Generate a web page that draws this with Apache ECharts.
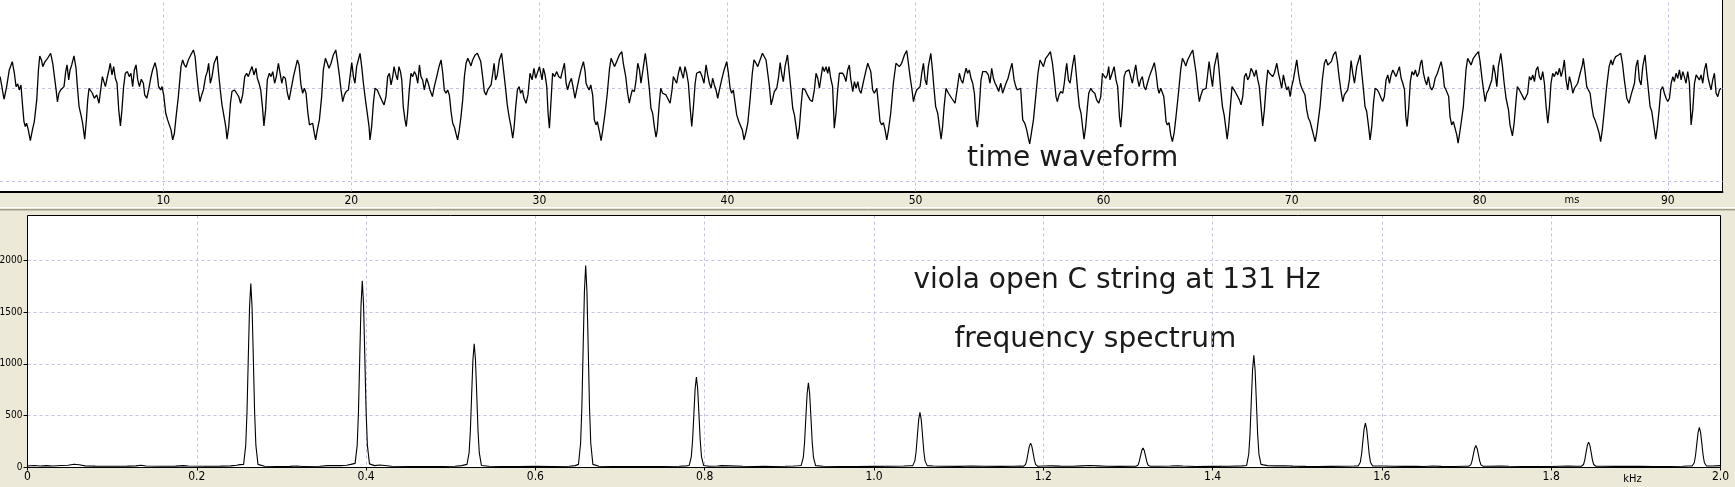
<!DOCTYPE html>
<html><head><meta charset="utf-8">
<script src="https://cdn.jsdelivr.net/npm/echarts@6/dist/echarts.min.js"></script>
<style>html,body{margin:0;padding:0;background:#ECE9D8;overflow:hidden}#c{width:1735px;height:487px}</style>
</head><body><div id="c"></div>
<script>
// time waveform: [time in ms, amplitude in arbitrary units]
const waveform = [
[1.32,35],[1.40,10],[1.53,-33],[1.67,5],[1.81,55],[1.97,80],[2.08,45],[2.17,5],[2.26,13],[2.34,-5],[2.43,10],[2.52,-55],[2.59,-100],[2.66,-115],[2.73,-105],[2.82,-125],[2.93,-157],[3.04,-125],[3.14,-100],[3.27,-35],[3.36,55],[3.43,97],[3.52,85],[3.59,65],[3.71,80],[3.85,90],[4.01,105],[4.12,75],[4.21,35],[4.30,-5],[4.37,-41],[4.45,-15],[4.54,-5],[4.63,-10],[4.72,5],[4.81,50],[4.88,70],[4.97,25],[5.04,55],[5.13,70],[5.25,97],[5.36,60],[5.43,5],[5.52,-55],[5.62,-80],[5.71,-105],[5.82,-153],[5.91,-95],[5.98,-35],[6.05,0],[6.14,-5],[6.23,-15],[6.33,-30],[6.46,-20],[6.58,-45],[6.67,-5],[6.76,35],[6.85,40],[6.92,5],[7.01,30],[7.11,55],[7.18,75],[7.27,40],[7.36,65],[7.45,30],[7.54,15],[7.63,-65],[7.72,-113],[7.80,-65],[7.89,5],[7.98,45],[8.09,50],[8.19,35],[8.28,45],[8.37,5],[8.46,55],[8.55,70],[8.64,25],[8.73,5],[8.83,27],[8.94,15],[9.01,-20],[9.12,-30],[9.22,-5],[9.33,30],[9.43,55],[9.56,77],[9.65,55],[9.75,5],[9.86,-5],[9.93,5],[10.02,-20],[10.13,-75],[10.23,-95],[10.32,-110],[10.41,-125],[10.50,-155],[10.59,-135],[10.68,-85],[10.80,-25],[10.94,65],[11.03,85],[11.12,70],[11.21,63],[11.33,85],[11.46,100],[11.60,115],[11.69,95],[11.77,45],[11.86,-5],[11.95,-40],[12.04,-20],[12.13,-5],[12.25,35],[12.34,50],[12.41,75],[12.50,15],[12.59,35],[12.70,75],[12.86,97],[12.94,45],[13.03,-5],[13.12,-50],[13.23,-85],[13.32,-115],[13.39,-153],[13.48,-115],[13.57,-45],[13.65,-10],[13.78,-5],[13.90,-15],[14.01,-25],[14.11,-45],[14.22,-20],[14.33,35],[14.43,45],[14.52,35],[14.61,50],[14.72,65],[14.82,40],[14.93,60],[15.00,30],[15.09,15],[15.18,-5],[15.27,-55],[15.35,-113],[15.44,-65],[15.53,25],[15.64,45],[15.73,35],[15.82,50],[15.92,15],[16.01,35],[16.12,75],[16.21,45],[16.30,15],[16.38,35],[16.49,30],[16.60,-15],[16.69,-35],[16.79,-5],[16.92,35],[17.00,40],
[17.13,85],[17.22,70],[17.32,10],[17.41,-15],[17.50,0],[17.59,-15],[17.68,-70],[17.77,-110],[17.85,-113],[17.94,-105],[18.03,-135],[18.10,-155],[18.19,-125],[18.30,-95],[18.42,-25],[18.51,55],[18.62,90],[18.72,75],[18.81,60],[18.92,75],[19.04,100],[19.17,115],[19.25,85],[19.36,40],[19.45,-5],[19.54,-40],[19.63,-20],[19.72,-10],[19.84,-5],[19.93,35],[20.02,77],[20.11,35],[20.19,15],[20.28,65],[20.46,105],[20.55,65],[20.64,15],[20.76,-40],[20.87,-85],[20.94,-115],[20.99,-155],[21.08,-115],[21.17,-45],[21.26,0],[21.38,-5],[21.49,-20],[21.61,-35],[21.74,-50],[21.84,-25],[21.93,35],[22.02,45],[22.11,10],[22.20,35],[22.27,65],[22.37,40],[22.45,25],[22.53,65],[22.61,50],[22.68,25],[22.76,-55],[22.85,-95],[22.92,-115],[22.99,-75],[23.08,-5],[23.17,45],[23.26,35],[23.35,50],[23.44,40],[23.53,15],[23.62,70],[23.70,35],[23.79,25],[23.88,-5],[24.00,30],[24.09,15],[24.18,-5],[24.31,-25],[24.41,5],[24.54,35],[24.66,65],[24.77,85],[24.86,45],[24.94,-5],[25.03,-15],[25.12,-5],[25.21,-20],[25.30,-70],[25.39,-105],[25.48,-117],[25.56,-135],[25.65,-155],[25.74,-125],[25.83,-85],[25.92,-35],[26.01,35],[26.10,75],[26.19,90],[26.27,80],[26.36,67],[26.45,85],[26.58,100],[26.70,105],[26.79,107],[26.88,80],[26.98,35],[27.07,-10],[27.16,-20],[27.25,-5],[27.34,-5],[27.43,10],[27.52,45],[27.59,75],[27.67,25],[27.76,40],[27.87,85],[27.99,105],[28.08,60],[28.19,5],[28.29,-50],[28.40,-90],[28.49,-115],[28.58,-150],[28.65,-120],[28.74,-55],[28.83,-5],[28.92,5],[29.00,-15],[29.09,-5],[29.18,-30],[29.29,-45],[29.39,-20],[29.50,45],[29.61,25],[29.71,60],[29.80,30],[29.89,35],[30.00,65],[30.07,65],[30.14,25],[30.21,60],[30.30,40],[30.39,5],[30.46,-75],[30.53,-120],[30.60,-55],[30.70,45],[30.81,35],[30.92,50],[31.02,35],[31.13,30],[31.24,55],[31.33,75],[31.42,15],[31.50,-5],[31.59,15],[31.70,30],[31.80,0],[31.89,-30],[31.98,-5],[32.09,25],[32.21,55],[32.34,80],[32.43,50],
[32.48,15],[32.55,5],[32.64,-5],[32.73,10],[32.83,-20],[32.92,-95],[33.01,-110],[33.08,-100],[33.19,-130],[33.28,-157],[33.37,-125],[33.49,-75],[33.61,-15],[33.72,55],[33.81,90],[33.90,85],[33.99,65],[34.11,80],[34.25,100],[34.38,110],[34.46,75],[34.59,35],[34.69,-15],[34.78,-45],[34.85,-25],[34.94,-5],[35.05,-10],[35.14,25],[35.23,75],[35.32,55],[35.40,15],[35.53,65],[35.63,105],[35.74,55],[35.85,-5],[35.93,-60],[36.02,-75],[36.11,-115],[36.20,-147],[36.27,-125],[36.36,-55],[36.45,0],[36.55,-15],[36.64,-10],[36.73,-20],[36.82,-15],[36.95,-45],[37.05,-5],[37.12,35],[37.21,40],[37.30,15],[37.39,45],[37.48,65],[37.57,45],[37.65,30],[37.74,65],[37.83,45],[37.92,15],[38.01,-55],[38.10,-115],[38.19,-55],[38.28,15],[38.36,45],[38.45,40],[38.54,50],[38.65,35],[38.75,15],[38.86,70],[38.95,40],[39.04,15],[39.13,0],[39.21,30],[39.30,10],[39.39,-5],[39.48,-30],[39.57,-5],[39.69,25],[39.82,55],[39.96,80],[40.05,45],[40.14,0],[40.22,-15],[40.31,-5],[40.40,-10],[40.49,-80],[40.60,-100],[40.70,-95],[40.79,-125],[40.88,-155],[40.99,-130],[41.08,-105],[41.20,-35],[41.32,45],[41.41,85],[41.52,75],[41.61,65],[41.73,85],[41.86,105],[41.96,110],[42.05,85],[42.14,45],[42.23,5],[42.32,-50],[42.41,-30],[42.49,-10],[42.62,0],[42.72,35],[42.80,77],[42.88,45],[42.97,20],[43.06,65],[43.19,100],[43.27,55],[43.36,5],[43.47,-60],[43.56,-80],[43.65,-115],[43.73,-153],[43.82,-120],[43.91,-55],[44.00,0],[44.13,-5],[44.25,-20],[44.39,-35],[44.51,-40],[44.62,-5],[44.71,45],[44.80,30],[44.89,0],[44.98,35],[45.06,65],[45.15,50],[45.24,65],[45.33,45],[45.40,65],[45.49,30],[45.59,5],[45.68,-120],[45.77,-75],[45.86,-5],[45.95,45],[46.04,40],[46.13,45],[46.22,35],[46.30,20],[46.39,55],[46.48,70],[46.55,30],[46.66,-10],[46.75,20],[46.84,0],[46.93,20],[47.01,-5],[47.10,-15],[47.23,20],[47.35,50],[47.46,75],[47.53,80],[47.62,50],[47.72,-5],[47.81,-15],
[47.94,0],[48.02,-45],[48.11,-100],[48.20,-110],[48.29,-103],[48.38,-125],[48.47,-155],[48.56,-125],[48.68,-75],[48.82,15],[48.96,75],[49.03,80],[49.14,65],[49.26,75],[49.41,100],[49.53,113],[49.62,75],[49.71,35],[49.80,0],[49.89,-40],[49.97,-20],[50.06,-5],[50.15,-5],[50.24,5],[50.33,45],[50.42,75],[50.51,25],[50.59,10],[50.68,65],[50.81,105],[50.90,55],[50.98,0],[51.07,-55],[51.18,-75],[51.27,-115],[51.36,-153],[51.44,-115],[51.52,-55],[51.62,0],[51.75,-15],[51.83,-20],[51.92,-30],[52.01,-25],[52.10,-45],[52.22,0],[52.33,45],[52.42,25],[52.51,15],[52.60,40],[52.69,60],[52.77,45],[52.86,55],[52.95,30],[53.04,15],[53.13,-15],[53.22,-95],[53.29,-117],[53.38,-65],[53.48,25],[53.57,50],[53.66,45],[53.75,50],[53.87,40],[53.96,15],[54.05,60],[54.14,30],[54.23,15],[54.32,5],[54.42,-10],[54.53,15],[54.63,-15],[54.72,-20],[54.81,15],[54.92,30],[55.03,55],[55.13,75],[55.24,25],[55.33,5],[55.41,-5],[55.50,-10],[55.59,0],[55.70,-95],[55.81,-105],[55.91,-125],[56.00,-150],[56.07,-167],[56.16,-135],[56.27,-95],[56.39,-25],[56.51,45],[56.62,85],[56.71,75],[56.80,65],[56.92,90],[57.06,100],[57.17,110],[57.28,75],[57.38,25],[57.47,-25],[57.54,-40],[57.63,-20],[57.72,-10],[57.83,-15],[57.91,15],[57.99,55],[58.04,75],[58.13,25],[58.22,15],[58.34,65],[58.45,100],[58.54,45],[58.62,-5],[58.71,-55],[58.80,-75],[58.89,-120],[58.96,-153],[59.05,-115],[59.14,-55],[59.21,-15],[59.32,0],[59.42,-10],[59.53,-15],[59.63,-35],[59.74,-45],[59.85,-25],[59.94,45],[60.02,50],[60.11,30],[60.20,40],[60.27,65],[60.34,25],[60.45,45],[60.56,65],[60.66,25],[60.75,5],[60.84,-85],[60.91,-117],[61.00,-55],[61.09,35],[61.18,50],[61.26,45],[61.35,55],[61.44,35],[61.53,15],[61.62,45],[61.71,70],[61.80,30],[61.89,5],[61.97,25],[62.06,35],[62.15,5],[62.24,-5],[62.33,15],[62.43,35],[62.56,55],[62.70,77],[62.79,45],[62.88,0],[62.95,-15],[63.04,0],[63.13,5],[63.20,-25],[63.27,-65],
[63.32,-100],[63.39,-110],[63.48,-103],[63.57,-140],[63.66,-160],[63.75,-135],[63.85,-85],[63.98,-15],[64.10,55],[64.19,90],[64.28,80],[64.37,67],[64.47,85],[64.60,100],[64.74,115],[64.83,80],[64.92,45],[65.01,-5],[65.09,-40],[65.18,-20],[65.27,-5],[65.36,-3],[65.45,0],[65.52,35],[65.61,80],[65.70,40],[65.79,5],[65.89,65],[66.05,107],[66.14,55],[66.23,-5],[66.32,-55],[66.41,-80],[66.49,-115],[66.57,-153],[66.65,-115],[66.74,-55],[66.83,5],[66.94,-5],[67.04,-15],[67.13,-20],[67.22,-35],[67.31,-50],[67.40,-25],[67.49,35],[67.58,45],[67.66,25],[67.75,35],[67.84,60],[67.93,50],[68.02,35],[68.11,55],[68.20,25],[68.28,5],[68.37,-55],[68.46,-113],[68.55,-65],[68.64,5],[68.73,55],[68.82,45],[68.91,50],[68.99,35],[69.08,45],[69.21,75],[69.30,45],[69.38,25],[69.47,0],[69.56,40],[69.65,15],[69.74,-5],[69.83,5],[69.92,-25],[70.00,5],[70.09,25],[70.18,55],[70.27,85],[70.36,45],[70.45,15],[70.54,0],[70.62,-5],[70.71,-20],[70.80,-65],[70.89,-90],[70.98,-100],[71.07,-120],[71.16,-140],[71.25,-160],[71.33,-135],[71.42,-95],[71.51,-55],[71.63,25],[71.74,75],[71.83,87],[71.92,70],[72.01,65],[72.11,80],[72.22,100],[72.34,110],[72.43,80],[72.52,35],[72.63,-10],[72.72,-40],[72.80,-20],[72.89,-15],[72.98,-5],[73.07,25],[73.16,83],[73.25,45],[73.34,15],[73.46,65],[73.64,100],[73.73,45],[73.82,-5],[73.90,-55],[73.99,-70],[74.08,-110],[74.17,-155],[74.26,-115],[74.35,-45],[74.44,0],[74.56,-5],[74.65,-15],[74.76,-30],[74.84,-40],[74.93,-25],[75.02,25],[75.11,40],[75.20,15],[75.29,40],[75.38,55],[75.46,60],[75.55,35],[75.64,50],[75.73,65],[75.82,30],[75.91,15],[76.00,-5],[76.07,-85],[76.14,-115],[76.23,-55],[76.31,20],[76.40,50],[76.49,40],[76.58,55],[76.67,35],[76.76,45],[76.85,75],[76.92,85],[77.01,45],[77.09,25],[77.18,10],[77.27,35],[77.36,5],[77.45,-5],[77.54,5],[77.63,30],[77.75,45],[77.86,65],[77.95,80],[78.03,55],[78.12,5],[78.21,-5],[78.28,0],[78.35,-25],[78.42,-85],[78.51,-110],[78.60,-100],[78.69,-105],
[78.78,-140],[78.85,-165],[78.92,-140],[79.01,-105],[79.13,-55],[79.27,55],[79.36,90],[79.45,80],[79.54,70],[79.66,90],[79.79,100],[79.93,110],[80.02,80],[80.11,35],[80.20,-5],[80.29,-40],[80.37,-15],[80.46,-5],[80.55,-5],[80.64,25],[80.73,70],[80.82,45],[80.91,5],[80.99,65],[81.12,105],[81.21,65],[81.30,15],[81.40,-30],[81.53,-65],[81.61,-110],[81.74,-143],[81.83,-105],[81.92,-45],[82.00,5],[82.11,-5],[82.20,-15],[82.29,-25],[82.38,-35],[82.47,-40],[82.55,-15],[82.64,35],[82.73,25],[82.82,40],[82.91,20],[83.00,55],[83.09,65],[83.17,35],[83.26,25],[83.35,50],[83.44,15],[83.53,-55],[83.62,-105],[83.71,-55],[83.79,15],[83.88,45],[83.97,35],[84.06,50],[84.15,40],[84.24,60],[84.33,35],[84.42,55],[84.50,85],[84.59,25],[84.68,-5],[84.77,35],[84.86,15],[84.95,-15],[85.04,0],[85.12,5],[85.21,15],[85.34,45],[85.46,70],[85.51,90],[85.60,50],[85.69,5],[85.78,-5],[85.87,-15],[85.96,-55],[86.05,-85],[86.13,-95],[86.22,-110],[86.35,-135],[86.43,-160],[86.52,-125],[86.61,-75],[86.75,5],[86.88,65],[86.98,85],[87.06,70],[87.14,85],[87.23,95],[87.38,100],[87.50,105],[87.59,75],[87.69,25],[87.82,-30],[87.94,-45],[88.05,-20],[88.14,-15],[88.23,15],[88.31,65],[88.40,85],[88.49,25],[88.58,10],[88.67,65],[88.79,100],[88.88,45],[88.97,-5],[89.06,-55],[89.15,-70],[89.24,-105],[89.36,-153],[89.45,-115],[89.54,-65],[89.63,-5],[89.73,5],[89.82,-15],[89.91,-30],[90.00,-40],[90.09,-30],[90.18,15],[90.27,35],[90.35,20],[90.44,45],[90.53,30],[90.62,55],[90.71,25],[90.80,50],[90.88,35],[90.97,15],[91.06,50],[91.15,15],[91.24,-110],[91.33,-65],[91.42,15],[91.51,40],[91.59,45],[91.68,25],[91.77,40],[91.86,15],[91.95,55],[92.04,75],[92.13,35],[92.21,15],[92.30,-5],[92.39,25],[92.48,45],[92.57,-15],[92.66,-25],[92.75,-5],[92.83,0]
];

// frequency spectrum: [frequency in kHz, magnitude]
const spectrum = [
[0,15],[0.008,20],[0.015,14],[0.022,18],[0.03,15],[0.04,19],[0.048,22],[0.055,32],[0.061,26],[0.068,16],[0.08,13],[0.1,12],[0.118,13],[0.128,16],[0.134,22],[0.14,15],[0.16,12],[0.175,13],[0.184,18],[0.19,14],[0.21,12],[0.228,13],[0.24,16],[0.247,22],[0.251,28],
[0.2553,30],[0.2578,213],[0.2593,532],[0.2608,1046],[0.2623,1543],[0.2638,1773],[0.2653,1543],[0.2668,1046],[0.2683,532],[0.2698,213],[0.2723,30],
[0.28,12],[0.295,10],[0.31,11],[0.318,15],[0.325,10],[0.345,12],[0.355,18],[0.363,20],[0.37,18],[0.377,22],[0.382,30],
[0.3870,40],[0.3895,216],[0.3910,540],[0.3925,1062],[0.3940,1566],[0.3955,1800],[0.3970,1566],[0.3985,1062],[0.4000,540],[0.4015,216],[0.4040,35],
[0.41,18],[0.416,24],[0.422,20],[0.43,12],[0.45,10],[0.465,9],[0.475,8],[0.49,10],[0.505,12],[0.513,18],
[0.5192,30],[0.5217,143],[0.5232,358],[0.5247,704],[0.5262,1039],[0.5277,1194],[0.5292,1039],[0.5307,704],[0.5322,358],[0.5337,143],[0.5362,20],
[0.545,12],[0.56,10],[0.58,10],[0.6,11],[0.62,10],[0.64,12],[0.647,18],
[0.6509,30],[0.6534,234],[0.6549,584],[0.6564,1149],[0.6579,1694],[0.6594,1947],[0.6609,1694],[0.6624,1149],[0.6639,584],[0.6654,234],[0.6679,30],
[0.675,12],[0.69,10],[0.71,9],[0.73,10],[0.75,10],[0.77,12],[0.778,16],
[0.7817,20],[0.7842,105],[0.7857,262],[0.7872,514],[0.7887,759],[0.7902,872],[0.7917,759],[0.7932,514],[0.7947,262],[0.7962,105],[0.7987,20],
[0.805,12],[0.815,14],[0.82,18],[0.83,16],[0.845,12],[0.86,10],[0.87,12],[0.88,10],[0.895,12],[0.905,14],[0.91,17],
[0.9140,20],[0.9165,98],[0.9180,245],[0.9195,482],[0.9210,711],[0.9225,817],[0.9240,711],[0.9255,482],[0.9270,245],[0.9285,98],[0.9310,18],
[0.94,12],[0.96,10],[0.98,10],[1.0,11],[1.02,12],[1.035,14],[1.042,17],
[1.0458,18],[1.0483,64],[1.0498,159],[1.0513,313],[1.0528,462],[1.0543,531],[1.0558,462],[1.0573,313],[1.0588,159],[1.0603,64],[1.0628,18],
[1.07,14],[1.08,12],[1.1,11],[1.115,14],[1.13,12],[1.15,11],[1.165,12],[1.173,13],
[1.1765,12],[1.1790,28],[1.1805,71],[1.1820,139],[1.1835,204],[1.1850,235],[1.1865,204],[1.1880,139],[1.1895,71],[1.1910,28],[1.1935,12],
[1.2,14],[1.21,16],[1.22,13],[1.235,12],[1.245,16],[1.255,19],[1.265,16],[1.275,12],[1.29,11],[1.305,12],
[1.3093,12],[1.3118,22],[1.3133,56],[1.3148,110],[1.3163,163],[1.3178,187],[1.3193,163],[1.3208,110],[1.3223,56],[1.3238,22],[1.3263,12],
[1.335,12],[1.35,14],[1.358,17],[1.365,14],[1.38,10],[1.4,11],[1.42,12],[1.435,16],
[1.4402,20],[1.4427,130],[1.4442,324],[1.4457,638],[1.4472,940],[1.4487,1081],[1.4502,940],[1.4517,638],[1.4532,324],[1.4547,130],[1.4572,30],
[1.46,25],[1.465,18],[1.475,16],[1.485,17],[1.495,13],[1.51,11],[1.525,10],[1.54,11],[1.555,12],[1.567,14],
[1.5720,15],[1.5745,51],[1.5760,128],[1.5775,253],[1.5790,372],[1.5805,428],[1.5820,372],[1.5835,253],[1.5850,128],[1.5865,51],[1.5890,15],
[1.6,14],[1.615,12],[1.625,11],[1.64,12],[1.65,10],[1.66,14],[1.67,11],[1.685,10],[1.698,12],
[1.7025,12],[1.7050,25],[1.7065,64],[1.7080,125],[1.7095,184],[1.7110,212],[1.7125,184],[1.7140,125],[1.7155,64],[1.7170,25],[1.7195,12],
[1.725,12],[1.74,14],[1.75,12],[1.765,10],[1.78,10],[1.8,10],[1.81,12],[1.82,13],[1.83,12],
[1.8357,12],[1.8382,29],[1.8397,74],[1.8412,145],[1.8427,213],[1.8442,245],[1.8457,213],[1.8472,145],[1.8487,74],[1.8502,29],[1.8527,12],
[1.86,12],[1.875,11],[1.89,12],[1.905,11],[1.92,10],[1.94,10],[1.955,12],[1.962,14],
[1.9665,15],[1.9690,46],[1.9705,116],[1.9720,228],[1.9735,336],[1.9750,386],[1.9765,336],[1.9780,228],[1.9795,116],[1.9810,46],[1.9835,15],
[1.99,14],[2.0,18]
];

const timeTickLabels = [10,20,30,40,50,60,70,80,90];      // ms
const waveGridLevels = [0,-280];                           // horizontal grid lines of the waveform panel
const timeRange = [1.316, 92.91];                          // ms shown
const waveRange = [-310, 265];
const freqRange = [0, 2.0];                                // kHz
const magRange  = [0, 2430];

const texts = {
  wave: 'time waveform',
  title: 'viola open C string at 131 Hz',
  spec: 'frequency spectrum',
  msUnit: 'ms',
  khzUnit: 'kHz'
};

const narrow = '"Liberation Sans Narrow","DejaVu Sans Condensed","Arial Narrow",sans-serif';
const gridDash = {color:'#c2c2e2', type:[3,3], width:1};
const lbl = {fontFamily:narrow, fontSize:12, color:'#000'};

const chart = echarts.init(document.getElementById('c'), null, {renderer:'canvas', width:1735, height:487});

chart.setOption({
  backgroundColor:'#ECE9D8',
  animation:false,
  grid:[
    {left:0, right:12.5, top:0, bottom:295.5, show:true, backgroundColor:'#fff', borderWidth:0,
     containLabel:false, outerBoundsMode:'none'},
    {left:27.5, right:14.5, top:215.5, bottom:19.5, show:true, backgroundColor:'#fff', borderWidth:0,
     containLabel:false, outerBoundsMode:'none'}
  ],
  xAxis:[
    {gridIndex:0, type:'value', min:timeRange[0], max:timeRange[1], splitNumber:9,
     axisLine:{show:true, onZero:false, lineStyle:{color:'#000', width:2}},
     axisTick:{show:false},
     axisLabel:{...lbl, margin:3, customValues:timeTickLabels,
                formatter:v=>timeTickLabels.includes(v)?String(v):''},
     splitLine:{show:false}},
    {gridIndex:1, type:'value', min:freqRange[0], max:freqRange[1], interval:0.2,
     axisLine:{show:false, onZero:false},
     axisTick:{show:true, length:3, lineStyle:{color:'#000'}},
     axisLabel:{...lbl, margin:3, formatter:v=>v===0?'0':v.toFixed(1)},
     splitLine:{show:true, lineStyle:gridDash}}
  ],
  yAxis:[
    {gridIndex:0, type:'value', min:waveRange[0], max:waveRange[1], position:'right',
     axisLine:{show:true, onZero:false, lineStyle:{color:'#000', width:1}},
     axisTick:{show:false}, axisLabel:{show:false}, splitLine:{show:false}},
    {gridIndex:1, type:'value', min:magRange[0], max:magRange[1], interval:500,
     axisLine:{show:false, onZero:false},
     axisTick:{show:true, length:4, lineStyle:{color:'#000'}},
     axisLabel:{...lbl, fontSize:10, margin:5, showMaxLabel:false, formatter:v=>String(v)},
     splitLine:{show:true, lineStyle:gridDash}}
  ],
  series:[
    {type:'line', xAxisIndex:0, yAxisIndex:0, data:waveform, symbol:'none', z:3,
     lineStyle:{color:'#000', width:1.3},
     markLine:{silent:true, symbol:'none', label:{show:false}, lineStyle:gridDash, z:1,
               data:waveGridLevels.map(v=>({yAxis:v})).concat(timeTickLabels.map(v=>({xAxis:v})))}},
    {type:'line', xAxisIndex:1, yAxisIndex:1, data:spectrum, symbol:'none', z:3,
     lineStyle:{color:'#000', width:1.1}}
  ],
  graphic:[
    {type:'rect', z:100, shape:{x:27.5, y:215.5, width:1693, height:252}, style:{fill:'none', stroke:'#000', lineWidth:1}},
    {type:'line', shape:{x1:0,y1:207.5,x2:1735,y2:207.5}, style:{stroke:'#ffffff', lineWidth:1}},
    {type:'line', shape:{x1:0,y1:209.5,x2:1735,y2:209.5}, style:{stroke:'#9d9a8c', lineWidth:1}},
    {type:'line', shape:{x1:0,y1:210.5,x2:1735,y2:210.5}, style:{stroke:'#c8c5b5', lineWidth:1}},
    {type:'text', x:967, y:158.5, style:{text:texts.wave, font:'28px "DejaVu Sans"', fill:'#1a1a1a', align:'left', verticalAlign:'middle'}},
    {type:'text', x:913.5, y:281, style:{text:texts.title, font:'28px "DejaVu Sans"', fill:'#1a1a1a', align:'left', verticalAlign:'middle'}},
    {type:'text', x:954.5, y:339.5, style:{text:texts.spec, font:'28px "DejaVu Sans"', fill:'#1a1a1a', align:'left', verticalAlign:'middle'}},
    {type:'text', x:1572, y:200.5, style:{text:texts.msUnit, font:'11px '+narrow, fill:'#000', align:'center', verticalAlign:'middle'}},
    {type:'text', x:1632.5, y:479.5, style:{text:texts.khzUnit, font:'11px '+narrow, fill:'#000', align:'center', verticalAlign:'middle'}}
  ]
});
</script></body></html>
